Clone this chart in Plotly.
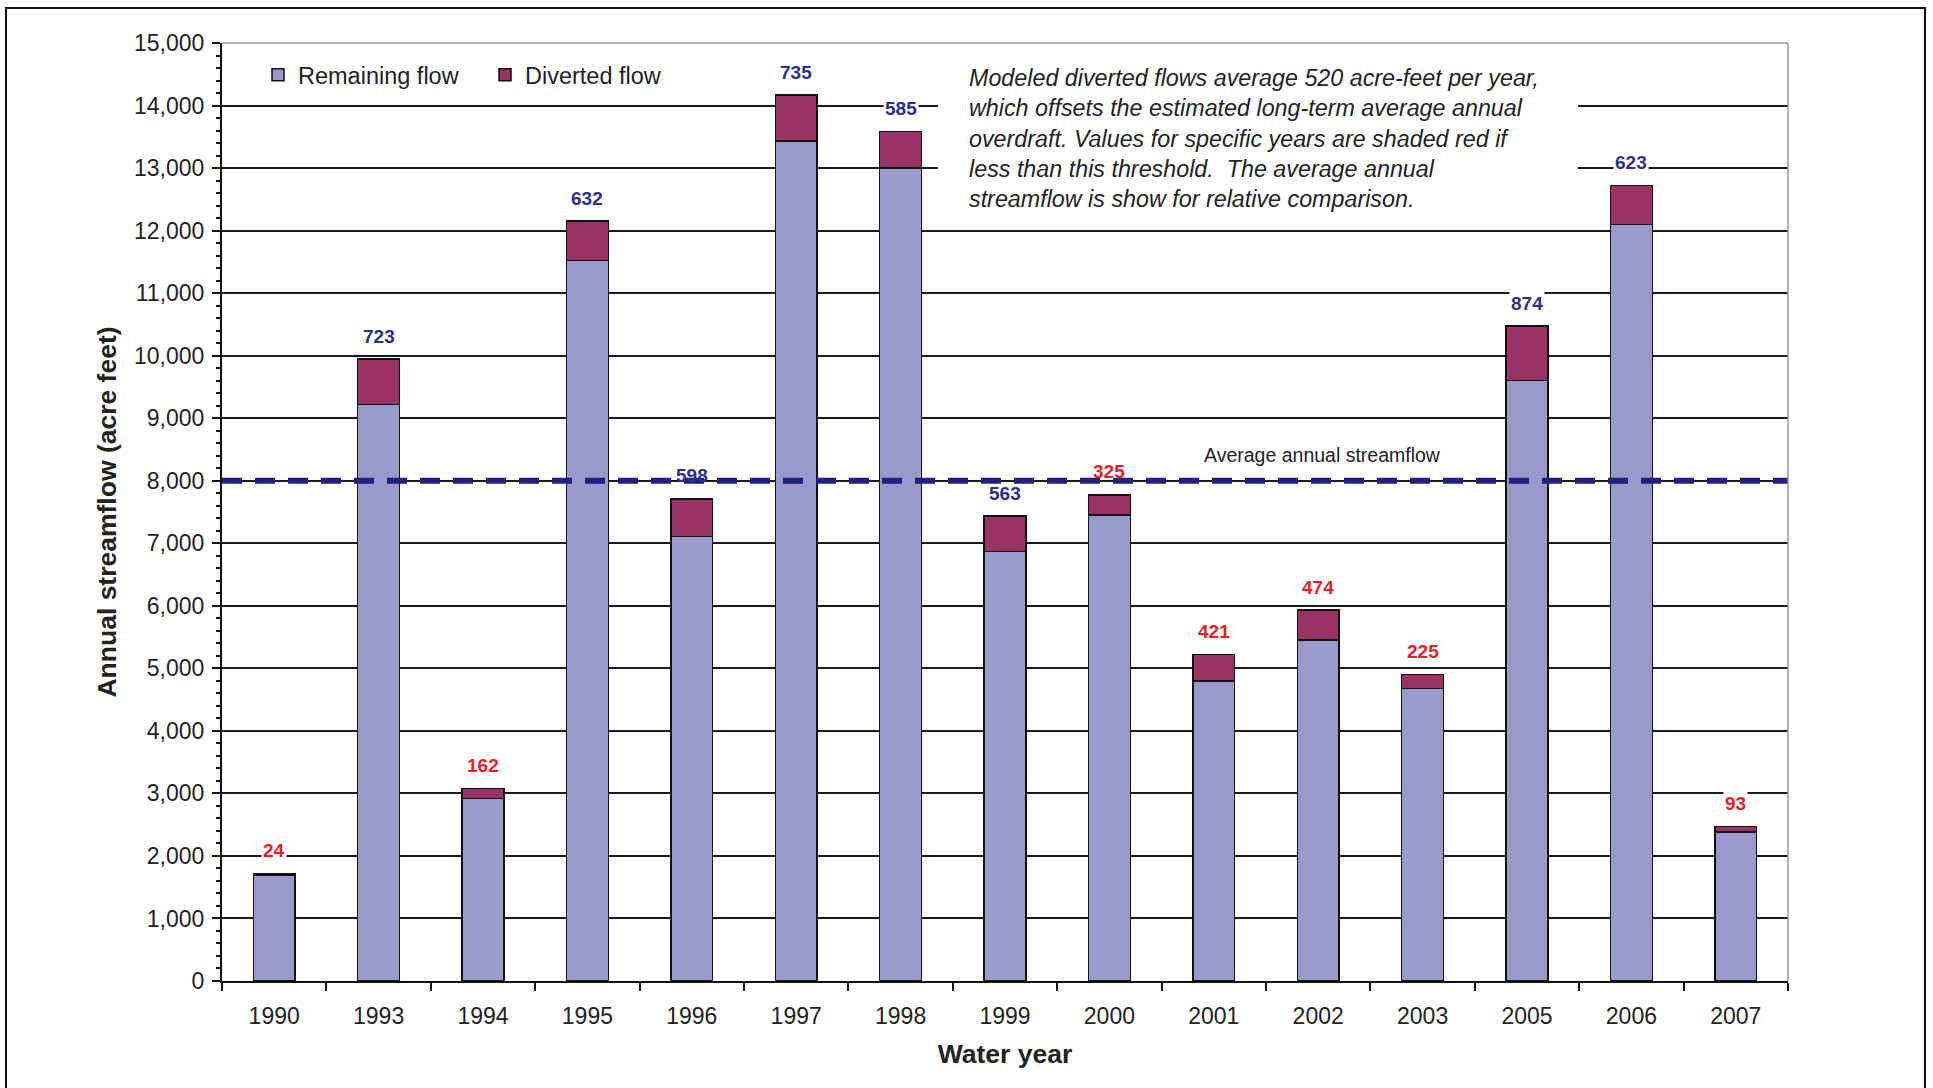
import plotly.graph_objects as go

# Water years shown on the chart
years = ["1990", "1993", "1994", "1995", "1996", "1997", "1998", "1999",
         "2000", "2001", "2002", "2003", "2005", "2006", "2007"]

# Streamflow remaining after diversion (acre-feet)
remaining_flow = [1690, 9220, 2920, 11520, 7110, 13430, 13000, 6870,
                  7450, 4800, 5455, 4680, 9600, 12100, 2380]

# Modeled diverted flow (acre-feet)
diverted_flow = [24, 723, 162, 632, 598, 735, 585, 563,
                 325, 421, 474, 225, 874, 623, 93]

diversion_threshold = 520      # long-term average overdraft offset
average_streamflow = 8000      # average annual streamflow

FONT = "Arial, Liberation Sans, sans-serif"
REMAINING_COLOR = "#9999CC"
DIVERTED_COLOR = "#993366"
ABOVE_COLOR = "#2B2F8E"
BELOW_COLOR = "#EE1C25"
AVG_LINE_COLOR = "#1F2080"

# plot-area geometry in pixels (used to place overlay items)
PLOT_L, PLOT_R, PLOT_T, PLOT_B = 222, 1788, 43, 981
PLOT_W, PLOT_H = PLOT_R - PLOT_L, PLOT_B - PLOT_T
n_cat = len(years)
cat_px = PLOT_W / n_cat


def px_to_cat(px):
    """Horizontal pixel -> category-axis coordinate."""
    return (px - PLOT_L) / cat_px - 0.5


fig = go.Figure()
fig.add_trace(go.Bar(
    x=years, y=remaining_flow, name="Remaining flow",
    marker=dict(color=REMAINING_COLOR, line=dict(color="#111111", width=1.5)),
))
fig.add_trace(go.Bar(
    x=years, y=diverted_flow, name="Diverted flow",
    marker=dict(color=DIVERTED_COLOR, line=dict(color="#111111", width=1.5)),
))

# Diverted-flow value labels above each stacked bar
px_per_unit = PLOT_H / 15000
annotations = []
for i, (rem, div) in enumerate(zip(remaining_flow, diverted_flow)):
    total = rem + div
    label_center = total + 23 / px_per_unit
    near_avg = abs(label_center - average_streamflow) < 300
    annotations.append(dict(
        x=i, y=total, xref="x", yref="y", yshift=23,
        text=f"<b>{div}</b>", showarrow=False, xanchor="center", yanchor="middle",
        font=dict(family=FONT, size=19,
                  color=ABOVE_COLOR if div >= diversion_threshold else BELOW_COLOR),
        bgcolor="rgba(0,0,0,0)" if near_avg else "white",
        borderpad=1,
    ))

# Explanatory note
annotations.append(dict(
    x=(967 - PLOT_L) / PLOT_W, y=1 - (63 - PLOT_T) / PLOT_H,
    xref="paper", yref="paper",
    xanchor="left", yanchor="top", align="left", showarrow=False,
    text=("<i>Modeled diverted flows average 520 acre-feet per year,<br>"
          "which offsets the estimated long-term average annual<br>"
          "overdraft. Values for specific years are shaded red if<br>"
          "less than this threshold.  The average annual<br>"
          "streamflow is show for relative comparison.</i>"),
    font=dict(family=FONT, size=23.3, color="#222222"),
))

# Average streamflow label
annotations.append(dict(
    x=(1322 - PLOT_L) / PLOT_W, y=average_streamflow, xref="paper", yref="y",
    xanchor="center", yanchor="middle",
    yshift=26, showarrow=False, text="Average annual streamflow",
    font=dict(family=FONT, size=19.5, color="#222222"),
))

shapes = [
    # white block behind the note, interrupting the gridlines
    dict(type="rect", xref="x", yref="y",
         x0=px_to_cat(938), x1=px_to_cat(1578), y0=12450, y1=14900,
         fillcolor="white", line=dict(width=0), layer="between"),
    # average annual streamflow
    dict(type="line", xref="paper", yref="y", x0=0, x1=1,
         y0=average_streamflow, y1=average_streamflow,
         line=dict(color=AVG_LINE_COLOR, width=6, dash="20px,13px"), layer="above"),
    # light plot-area border on top and right
    dict(type="line", xref="paper", yref="paper", x0=0, x1=1, y0=1, y1=1,
         line=dict(color="#999999", width=1.5), layer="above"),
    dict(type="line", xref="paper", yref="paper", x0=1, x1=1, y0=0, y1=1,
         line=dict(color="#999999", width=1.5), layer="above"),
    # outer frame
    dict(type="rect", xref="paper", yref="paper",
         x0=(6 - PLOT_L) / PLOT_W, x1=(1925 - PLOT_L) / PLOT_W,
         y0=-0.3, y1=(PLOT_B - 8) / PLOT_H,
         line=dict(color="#111111", width=2), fillcolor="rgba(0,0,0,0)", layer="above"),
]

fig.update_layout(
    barmode="stack",
    bargap=0.6,
    width=1933, height=1088,
    margin=dict(l=PLOT_L, r=1933 - PLOT_R, t=PLOT_T, b=1088 - PLOT_B, autoexpand=False),
    paper_bgcolor="white", plot_bgcolor="white",
    font=dict(family=FONT, size=22, color="#222222"),
    showlegend=True,
    legend=dict(
        orientation="h", traceorder="normal",
        x=(258 - PLOT_L) / PLOT_W, y=1 - (75 - PLOT_T) / PLOT_H,
        xanchor="left", yanchor="middle",
        font=dict(family=FONT, size=23.5, color="#222222"),
        bgcolor="rgba(0,0,0,0)", entrywidth=182, entrywidthmode="pixels",
    ),
    annotations=annotations,
    shapes=shapes,
)

fig.update_xaxes(
    type="category", categoryorder="array", categoryarray=years,
    range=[-0.5, n_cat - 0.5], tickson="boundaries",
    ticks="outside", ticklen=8, tickwidth=1.5, tickcolor="#111111",
    showline=True, linecolor="#111111", linewidth=2,
    showgrid=False, tickangle=0, ticklabelstandoff=13,
    tickfont=dict(family=FONT, size=23, color="#222222"),
    title=dict(text="<b>Water year</b>", standoff=17,
               font=dict(family=FONT, size=26.5, color="#222222")),
)

fig.update_yaxes(
    range=[0, 15000], dtick=1000, tickformat=",d",
    ticks="outside", ticklen=8, tickwidth=1.5, tickcolor="#111111",
    minor=dict(dtick=200, ticks="outside", ticklen=4, tickcolor="#111111", showgrid=False),
    showline=True, linecolor="#111111", linewidth=2,
    showgrid=True, gridcolor="#1a1a1a", gridwidth=1.5,
    zeroline=False, ticklabelstandoff=3,
    tickfont=dict(family=FONT, size=23, color="#222222"),
    title=dict(text="<b>Annual streamflow (acre feet)</b>", standoff=10,
               font=dict(family=FONT, size=26.5, color="#222222")),
)

fig.write_html("out.html")
